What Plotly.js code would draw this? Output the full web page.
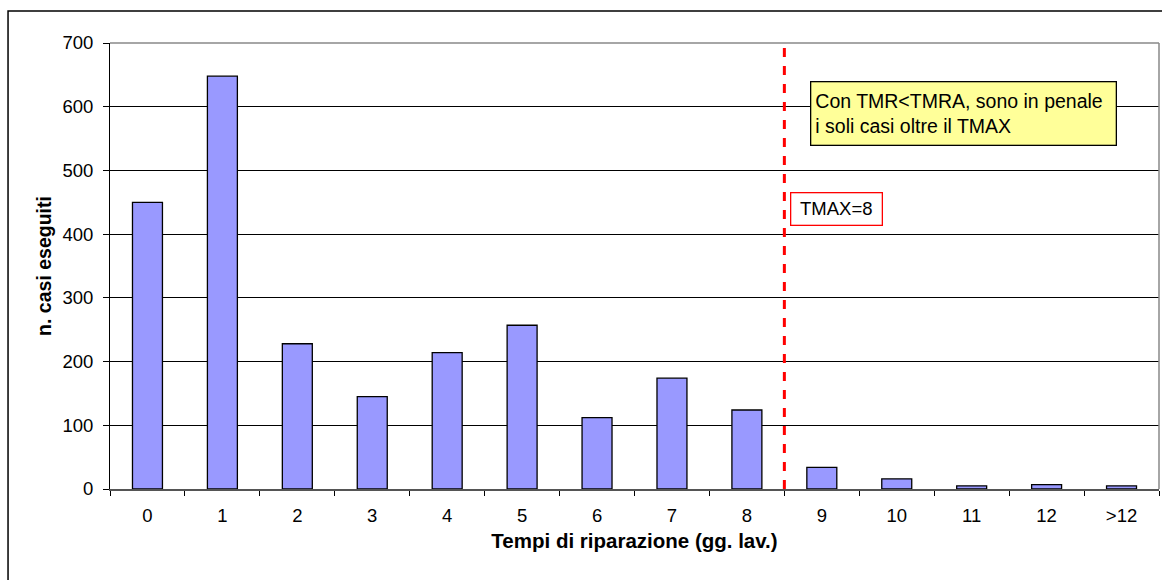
<!DOCTYPE html>
<html>
<head>
<meta charset="utf-8">
<script src="https://cdn.plot.ly/plotly-3.0.1.min.js"></script>
<style>html,body{margin:0;padding:0;background:#fff;}#chart{width:1162px;height:580px;}</style>
</head>
<body>
<div id="chart"></div>
<script>
var categories = ["0","1","2","3","4","5","6","7","8","9","10","11","12",">12"];
var casiEseguiti = [450, 648, 228, 145, 214, 257, 112, 174, 124, 34, 16, 5, 7, 5];
var tmax = 8.5;
var xTitle = "Tempi di riparazione (gg. lav.)";
var yTitle = "n. casi eseguiti";
var noteText = "Con TMR&lt;TMRA, sono in penale<br>i soli casi oltre il TMAX";
var tmaxLabel = "TMAX=8";

var fam = "Liberation Sans, Arial, sans-serif";
var tickFont = {family: fam, size: 18.5, color: "#000"};

var trace = {
  type: "bar",
  x: categories,
  y: casiEseguiti,
  marker: {color: "#9999ff", line: {color: "#000", width: 1.3}},
  hoverinfo: "x+y"
};

var layout = {
  width: 1162, height: 580,
  margin: {l: 110, r: 3, t: 43, b: 91},
  paper_bgcolor: "#fff", plot_bgcolor: "#fff",
  showlegend: false,
  bargap: 0.6,
  font: tickFont,
  xaxis: {
    type: "category",
    automargin: false,
    tickson: "boundaries",
    ticks: "outside", ticklen: 5, tickcolor: "#000",
    ticklabelstandoff: 9,
    showline: true, linecolor: "#555", linewidth: 1.5,
    showgrid: false, zeroline: false,
    tickfont: tickFont,
    title: {text: xTitle, font: {family: fam, size: 20.5, color: "#000", weight: "bold"}, standoff: 9}
  },
  yaxis: {
    range: [0, 700], dtick: 100,
    automargin: false,
    ticks: "outside", ticklen: 6, tickcolor: "#000",
    ticklabelstandoff: 6,
    showline: true, linecolor: "#000", linewidth: 1,
    showgrid: true, gridcolor: "#000", gridwidth: 1,
    zeroline: false,
    tickfont: tickFont,
    title: {text: yTitle, font: {family: fam, size: 19.5, color: "#000", weight: "bold"}, standoff: 5}
  },
  shapes: [
    {type: "line", xref: "paper", yref: "paper", x0: 0, x1: 1, y0: 1, y1: 1, line: {color: "#888", width: 1.5}},
    {type: "line", xref: "paper", yref: "paper", x0: 1, x1: 1, y0: 0, y1: 1, line: {color: "#888", width: 1.5}},
    {type: "line", xref: "x", yref: "paper", x0: tmax, x1: tmax, y0: 0, y1: 1, line: {color: "#ff0000", width: 3, dash: "dash"}},
    {type: "rect", xref: "paper", yref: "paper", x0: -0.0972, x1: 1.05, y0: -0.25, y1: 1.0717, line: {color: "#000", width: 1.5}, fillcolor: "rgba(0,0,0,0)"}
  ],
  annotations: [
    {xref: "paper", yref: "paper", x: 0.667, y: 0.915, xanchor: "left", yanchor: "top",
     text: noteText, align: "left", showarrow: false, width: 296, height: 54,
     bgcolor: "#ffff99", bordercolor: "#000", borderwidth: 1.3, borderpad: 4, valign: "middle",
     font: {family: fam, size: 19.5, color: "#000"}},
    {xref: "paper", yref: "paper", x: 0.648, y: 0.666, xanchor: "left", yanchor: "top",
     text: tmaxLabel, align: "center", showarrow: false, width: 88, height: 29,
     bgcolor: "#fff", bordercolor: "#ff0000", borderwidth: 1.3, borderpad: 1, valign: "middle",
     font: {family: fam, size: 18.5, color: "#000"}}
  ]
};

Plotly.newPlot("chart", [trace], layout, {displayModeBar: false, staticPlot: true});
</script>
</body>
</html>
